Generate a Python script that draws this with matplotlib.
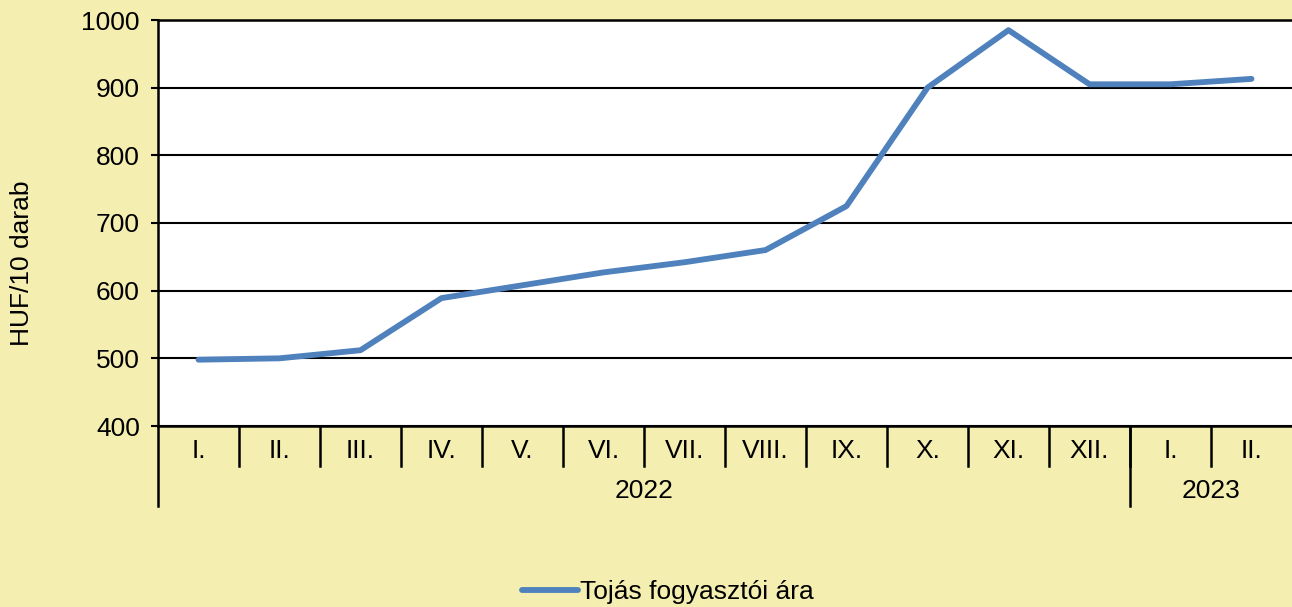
import matplotlib.pyplot as plt
from matplotlib.lines import Line2D
import matplotlib.transforms as mtransforms

plt.rcParams['font.family'] = ['Liberation Sans', 'DejaVu Sans']

months = ['I.', 'II.', 'III.', 'IV.', 'V.', 'VI.', 'VII.', 'VIII.', 'IX.', 'X.', 'XI.', 'XII.', 'I.', 'II.']
years = ['2022', '2023']
year_sizes = [12, 2]
prices = [498, 500, 512, 589, 608, 627, 642, 660, 725, 900, 985, 905, 905, 913]

W, H = 1292, 607
bg = '#F4EEB1'
blue = '#4F81BD'
fs = 19

fig = plt.figure(figsize=(W / 100, H / 100), dpi=100, facecolor=bg)
ax = fig.add_axes([158 / W, (H - 426) / H, (W - 158) / W, 406 / H])
ax.set_facecolor('white')

x = list(range(len(prices)))
ax.plot(x, prices, color=blue, lw=4.2, solid_capstyle='round', solid_joinstyle='round', zorder=3)

ax.set_xlim(-0.5, len(prices) - 0.5)
ax.set_ylim(400, 1000)
ax.set_yticks(range(400, 1001, 100))
ax.yaxis.grid(True, color='black', lw=1.5)
ax.set_axisbelow(True)
ax.tick_params(axis='y', labelsize=fs, length=5, width=1.5, pad=8)

ax.set_xticks(x)
ax.set_xticklabels(months)
ax.tick_params(axis='x', labelsize=fs, length=0, pad=9)

for s in ['left', 'top', 'bottom']:
    ax.spines[s].set_linewidth(1.8)
ax.spines['right'].set_visible(False)

trans = mtransforms.blended_transform_factory(ax.transData, ax.transAxes)
row = 40 / 406

# separators between months
for i in range(len(prices) - 1):
    xb = i + 0.5
    ax.add_line(Line2D([xb, xb], [0, -row], transform=trans, color='black', lw=1.8, clip_on=False))

# year group separators and labels
start = 0
bounds = [-0.5]
for y, n in zip(years, year_sizes):
    mid = start + (n - 1) / 2
    ax.text(mid, -65 / 406, y, transform=trans, ha='center', va='center', fontsize=fs)
    start += n
    bounds.append(start - 0.5)
for xb in bounds[:-1]:
    ax.add_line(Line2D([xb, xb], [0, -2 * row], transform=trans, color='black', lw=1.8, clip_on=False))

fig.text(22 / W, 1 - 263 / H, 'HUF/10 darab', rotation=90, ha='center', va='center', fontsize=fs)

handle = Line2D([], [], color=blue, lw=4.2, solid_capstyle='round')
fig.legend([handle], ['Tojás fogyasztói ára'], loc='center', bbox_to_anchor=(668 / W, 1 - 592 / H),
           frameon=False, fontsize=fs, handlelength=2.1, handletextpad=0.1)

fig.savefig('out.png', dpi=100, facecolor=bg)
